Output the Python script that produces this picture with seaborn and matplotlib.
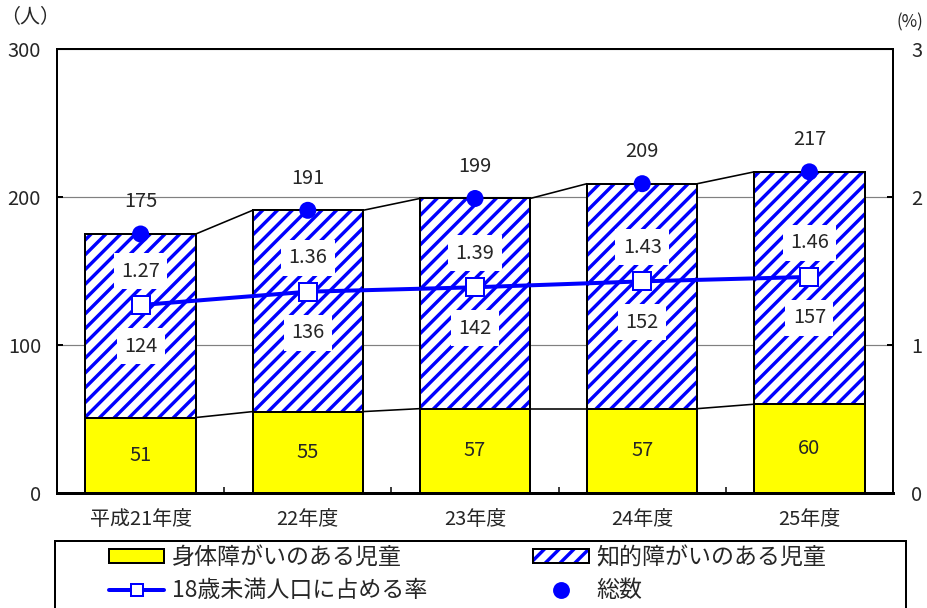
import numpy as np
import seaborn as sns
import matplotlib.pyplot as plt
from matplotlib.patches import Rectangle, Patch
from matplotlib.lines import Line2D

# -----------------------
# Data
# -----------------------

years = ["平成21年度", "22年度", "23年度", "24年度", "25年度"]
physical = [51, 55, 57, 57, 60]          # 身体障がいのある児童
intellectual = [124, 136, 142, 152, 157]  # 知的障がいのある児童
totals = [175, 191, 199, 209, 217]        # 総数
rates = [1.27, 1.36, 1.39, 1.43, 1.46]    # 18歳未満人口に占める率 (%)

DPI = 133
PX = 72 / DPI  # points per pixel
BLUE = "#0000ff"
W = 0.66

sns.set_theme(style="white")
plt.rcParams["font.family"] = ["Noto Sans CJK JP", "DejaVu Sans"]
plt.rcParams["hatch.linewidth"] = 3.4 * PX

fig = plt.figure(figsize=(927 / DPI, 608 / DPI), dpi=DPI)
ax = fig.add_axes([57 / 927, 1 - 493 / 608, 836 / 927, 444 / 608])

fs = 20 * PX
pos = np.arange(len(years))

# -----------------------
# Bars
# -----------------------

sns.barplot(x=years, y=totals, color="white", edgecolor=BLUE, hatch="///",
            linewidth=0, width=W, saturation=1, errorbar=None, ax=ax, zorder=2)
sns.barplot(x=years, y=totals, fill=False, color="black", linewidth=2 * PX,
            width=W, errorbar=None, ax=ax, zorder=3)
sns.barplot(x=years, y=physical, color="#ffff00", edgecolor="black",
            linewidth=2 * PX, width=W, saturation=1, errorbar=None, ax=ax, zorder=4)

# series lines between bars
for series in (physical, totals):
    for i in range(len(years) - 1):
        ax.plot([i + W / 2, i + 1 - W / 2], [series[i], series[i + 1]],
                color="black", lw=1.6 * PX, zorder=3)

sns.scatterplot(x=pos, y=totals, s=(17 * PX) ** 2, color=BLUE,
                edgecolor="none", ax=ax, zorder=6, legend=False)

for i, v in enumerate(totals):
    ax.annotate(str(v), (i, v), xytext=(0, 32), textcoords="offset pixels",
                ha="center", va="center", fontsize=fs, zorder=7)
for i, v in enumerate(physical):
    ax.text(i, v / 2, str(v), ha="center", va="center", fontsize=fs, zorder=7)

ax.set_xlim(-0.5, len(years) - 0.5)
ax.set_ylim(0, 300)
ax.set_yticks([0, 100, 200, 300])
ax.yaxis.grid(True, color="#808080", lw=1.2 * PX)
ax.set_axisbelow(True)
ax.set_xlabel("")
ax.set_ylabel("")
ax.set_xticks(pos)
ax.set_xticklabels(years)
ax.set_xticks(pos[:-1] + 0.5, minor=True)
ax.tick_params(axis="x", which="major", length=0, pad=16 * PX, labelsize=fs)
ax.tick_params(axis="x", which="minor", direction="in", length=6 * PX,
               width=1.5 * PX, color="black", bottom=True)
ax.tick_params(axis="y", direction="in", length=6 * PX, width=2 * PX,
               color="black", pad=16 * PX, labelsize=fs, left=True)

for side in ["left", "right", "top"]:
    ax.spines[side].set_color("black")
    ax.spines[side].set_linewidth(2 * PX)
ax.spines["bottom"].set_color("black")
ax.spines["bottom"].set_linewidth(3 * PX)

# -----------------------
# Rate line (right axis)
# -----------------------

ax2 = ax.twinx()
sns.lineplot(x=pos, y=rates, color=BLUE, lw=4 * PX, marker="s",
             markersize=18 * PX, markerfacecolor="white", markeredgecolor=BLUE,
             markeredgewidth=2 * PX, ax=ax2, zorder=5)
ax2.set_ylim(0, 3)
ax2.set_yticks([0, 1, 2, 3])
ax2.set_ylabel("")
ax2.tick_params(axis="y", direction="in", length=6 * PX, width=2 * PX,
                color="black", pad=18 * PX, labelsize=fs, right=True)
for s in ax2.spines.values():
    s.set_visible(False)

box = dict(facecolor="white", edgecolor="none", pad=4)
for i, r in enumerate(rates):
    ax2.annotate(f"{r:.2f}", (i, r), xytext=(0, 34), textcoords="offset pixels",
                 ha="center", va="center", fontsize=fs, bbox=box, zorder=7)
for i, v in enumerate(intellectual):
    ax2.annotate(str(v), (i, rates[i]), xytext=(0, -41), textcoords="offset pixels",
                 ha="center", va="center", fontsize=fs, bbox=box, zorder=7)

fig.text(30 / 927, 1 - 18 / 608, "（人）", ha="center", va="center", fontsize=fs)
fig.text(910 / 927, 1 - 22 / 608, "(%)", ha="center", va="center", fontsize=17 * PX)

# -----------------------
# Legend
# -----------------------

fig.patches.append(Rectangle((55 / 927, -0.05), 851 / 927, 0.05 + 67 / 608,
                             transform=fig.transFigure, fill=False,
                             edgecolor="black", lw=2 * PX))
handles = [
    Patch(facecolor="#ffff00", edgecolor="black", lw=2 * PX),
    Line2D([], [], color=BLUE, lw=4 * PX, marker="s", markersize=12 * PX,
           markerfacecolor="white", markeredgecolor=BLUE, markeredgewidth=2 * PX),
    (Patch(facecolor="white", edgecolor=BLUE, hatch="///", lw=0),
     Patch(fill=False, edgecolor="black", lw=2 * PX)),
    Line2D([], [], color=BLUE, lw=0, marker="o", markersize=15 * PX),
]
labels = ["身体障がいのある児童", "18歳未満人口に占める率", "知的障がいのある児童", "総数"]
fig.legend(handles, labels, loc="upper left", ncol=2,
           bbox_to_anchor=(109 / 927, 1 - 546 / 608), frameon=False,
           borderpad=0, borderaxespad=0, fontsize=23 * PX, handlelength=2.4,
           handleheight=0.6, handletextpad=0.35, columnspacing=4.6,
           labelspacing=0.45)

fig.savefig("out.png", dpi=DPI)
